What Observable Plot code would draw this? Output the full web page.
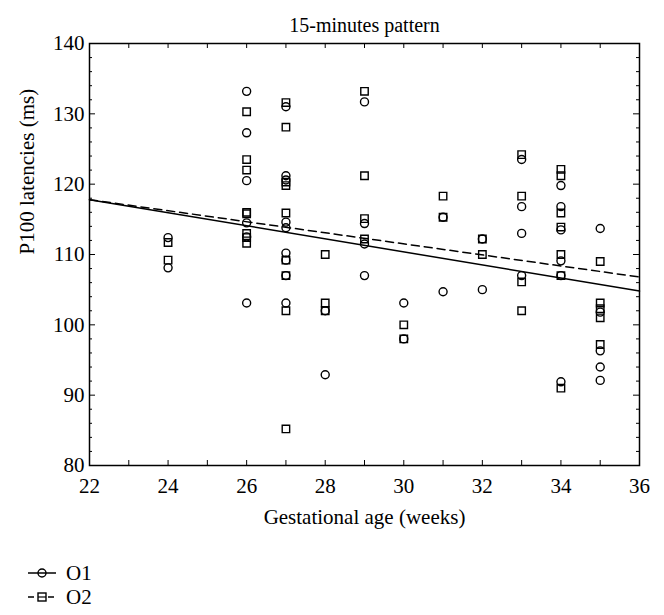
<!DOCTYPE html>
<html>
<head>
<meta charset="utf-8">
<script src="https://cdn.jsdelivr.net/npm/d3@7"></script>
<script src="https://cdn.jsdelivr.net/npm/@observablehq/plot@0.6"></script>
<style>
  html, body { margin: 0; padding: 0; background: #fff; }
  #chart { width: 664px; font-family: "Liberation Serif", "DejaVu Serif", serif; color: #000; }
  .legend { position: relative; height: 75px; font-size: 21px; }
  .legend .row { position: absolute; left: 28px; display: flex; align-items: center; height: 24px; }
  .legend .row span { margin-left: 10px; }
</style>
</head>
<body>
<div id="chart"></div>
<script>
// ---- data ----
const o1Weeks  = [24,24, 26,26,26,26,26,26, 27,27,27,27,27,27,27,27,27, 28,28, 29,29,29,29, 30,30, 31,31, 32,32, 33,33,33,33, 34,34,34,34,34,34, 35,35,35,35,35];
const o1Values = [112.4,108.1, 133.2,127.3,120.5,114.5,112.5,103.1, 131.0,121.2,120.6,114.6,113.8,110.2,109.2,107.0,103.1, 102.0,92.9, 131.7,114.4,111.5,107.0, 103.1,98.0, 115.3,104.7, 112.2,105.0, 123.5,116.8,113.0,107.0, 119.8,116.8,113.5,109.1,107.0,91.9, 113.7,101.8,96.3,94.0,92.1];
const o2Weeks  = [24,24, 26,26,26,26,26,26,26,26, 27,27,27,27,27,27,27,27,27, 28,28,28, 29,29,29,29, 30,30, 31,31, 32,32, 33,33,33,33, 34,34,34,34,34,34,34, 35,35,35,35,35];
const o2Values = [111.7,109.2, 130.3,123.5,122.0,116.0,115.8,113.0,112.4,111.6, 131.6,128.1,120.3,119.8,115.9,109.2,107.0,102.0,85.2, 110.0,103.1,102.0, 133.2,121.2,115.1,112.2, 100.0,98.0, 118.3,115.3, 112.2,110.0, 124.2,118.3,106.1,102.0, 122.1,121.2,115.9,113.9,110.0,107.0,91.0, 109.0,103.1,102.3,101.0,97.2];
const fitWeeks = [22, 36];
const fitO1 = [117.8, 104.8];
const fitO2 = [117.8, 106.8];
const xTickLabels = [22, 24, 26, 28, 30, 32, 34, 36];
const xTicksAll = [22, 23, 24, 25, 26, 27, 28, 29, 30, 31, 32, 33, 34, 35, 36];
const yTickLabels = [80, 90, 100, 110, 120, 130, 140];
const yTicksMinor = [82, 84, 86, 88, 92, 94, 96, 98, 102, 104, 106, 108, 112, 114, 116, 118, 122, 124, 126, 128, 132, 134, 136, 138];
const titleText = "15-minutes pattern";
const xLabel = "Gestational age (weeks)";
const yLabel = "P100 latencies (ms)";
const seriesNames = ["O1", "O2"];

const o1 = o1Weeks.map((w, i) => ({week: w, value: o1Values[i]}));
const o2 = o2Weeks.map((w, i) => ({week: w, value: o2Values[i]}));
const fit1 = fitWeeks.map((w, i) => ({week: w, value: fitO1[i]}));
const fit2 = fitWeeks.map((w, i) => ({week: w, value: fitO2[i]}));

const W = 664, H = 540, mL = 89, mR = 25, mT = 43, mB = 75;
const innerW = W - mL - mR, innerH = H - mT - mB;
const font = '"Liberation Serif", "DejaVu Serif", serif';

const plot = Plot.plot({
  width: W, height: H,
  marginLeft: mL, marginRight: mR, marginTop: mT, marginBottom: mB,
  style: {fontFamily: font, fontSize: "21px", background: "#fff", color: "#000", overflow: "visible"},
  x: {domain: [22, 36]},
  y: {domain: [80, 140]},
  marks: [
    // inward ticks on all four sides
    Plot.tickX(xTicksAll, {x: d => d, insetTop: innerH - 5, stroke: "#000", strokeWidth: 1}),
    Plot.tickX(xTicksAll, {x: d => d, insetBottom: innerH - 5, stroke: "#000", strokeWidth: 1}),
    Plot.tickY(yTickLabels, {y: d => d, insetRight: innerW - 6, stroke: "#000", strokeWidth: 1}),
    Plot.tickY(yTickLabels, {y: d => d, insetLeft: innerW - 6, stroke: "#000", strokeWidth: 1}),
    Plot.tickY(yTicksMinor, {y: d => d, insetRight: innerW - 3, stroke: "#000", strokeWidth: 1}),
    Plot.tickY(yTicksMinor, {y: d => d, insetLeft: innerW - 3, stroke: "#000", strokeWidth: 1}),
    Plot.axisX(xTickLabels, {tickSize: 0, tickPadding: 13, fontSize: 21, label: null}),
    Plot.axisY(yTickLabels, {tickSize: 0, tickPadding: 5, fontSize: 21, label: null}),
    // fit lines
    Plot.line(fit1, {x: "week", y: "value", stroke: "#000", strokeWidth: 1.5}),
    Plot.line(fit2, {x: "week", y: "value", stroke: "#000", strokeWidth: 1.5, strokeDasharray: "8,5"}),
    // points
    Plot.dot(o1, {x: "week", y: "value", r: 4, stroke: "#000", strokeWidth: 1.4, fill: "none"}),
    Plot.dot(o2, {x: "week", y: "value", r: 4.2, symbol: "square", stroke: "#000", strokeWidth: 1.4, fill: "none"}),
    Plot.frame({stroke: "#000", strokeWidth: 1.5}),
    // texts
    Plot.text([titleText], {text: d => d, frameAnchor: "top", dy: -26, fontSize: 20}),
    Plot.text([xLabel], {text: d => d, frameAnchor: "bottom", dy: 58, fontSize: 21}),
    Plot.text([yLabel], {text: d => d, frameAnchor: "left", dx: -62, rotate: -90, fontSize: 21})
  ]
});

const chart = document.getElementById("chart");
chart.appendChild(plot);

// legend below the SVG
const legend = document.createElement("div");
legend.className = "legend";
const symbols = [
  '<svg width="28" height="14"><line x1="0" y1="7" x2="28" y2="7" stroke="#000" stroke-width="1.5"/><circle cx="14" cy="7" r="4" fill="none" stroke="#000" stroke-width="1.4"/></svg>',
  '<svg width="28" height="14"><line x1="0" y1="7" x2="28" y2="7" stroke="#000" stroke-width="1.5" stroke-dasharray="6,4"/><rect x="10" y="3" width="8" height="8" fill="#fff" stroke="#000" stroke-width="1.4"/><line x1="10" y1="7" x2="18" y2="7" stroke="#000" stroke-width="1.2"/></svg>'
];
seriesNames.forEach((name, i) => {
  const row = document.createElement("div");
  row.className = "row";
  row.style.top = (21 + i * 24) + "px";
  row.innerHTML = symbols[i] + "<span>" + name + "</span>";
  legend.appendChild(row);
});
chart.appendChild(legend);
</script>
</body>
</html>
